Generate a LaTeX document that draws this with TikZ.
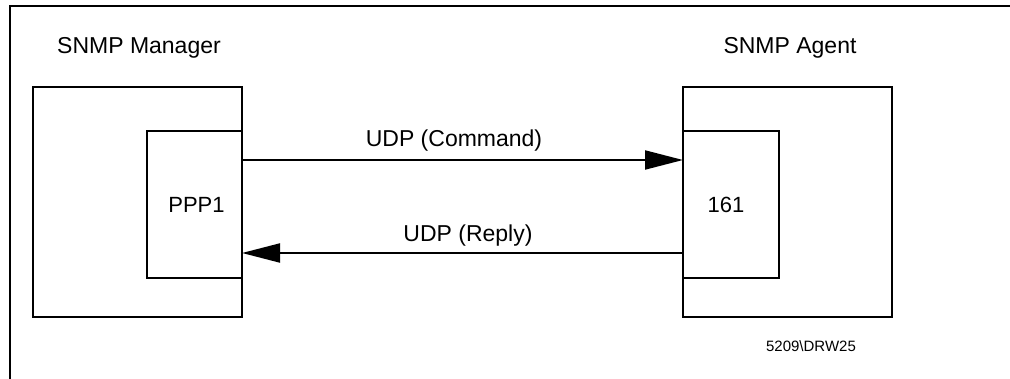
\documentclass[tikz,border=0pt]{standalone}
\usepackage{fontspec}
\setmainfont{Liberation Sans}
\usetikzlibrary{arrows.meta}
\begin{document}
\begin{tikzpicture}[x=1pt,y=-1pt,
  box/.style={draw, line width=2pt, rectangle, inner sep=0pt, outer sep=0pt},
  lbl/.style={inner sep=0pt, anchor=base, font=\fontsize{23}{26}\selectfont},
  arr/.style={line width=2pt, -{Triangle[length=38pt,width=19pt]}}]
\useasboundingbox (0,0) rectangle (1010,379);
% frame
\draw[line width=2pt] (1010,6) -- (10,6) -- (10,379);
% manager
\node[box, minimum width=209pt, minimum height=230pt] (mgr) at (137.5,202) {};
\node[box, fill=white, minimum width=95pt, minimum height=147pt] (ppp) at (194.5,204.5) {};
% agent
\node[box, minimum width=209pt, minimum height=230pt] (agt) at (787.5,202) {};
\node[box, fill=white, minimum width=96pt, minimum height=147pt] (port) at (731,204.5) {};
% texts
\node[lbl] (mgrt) at (139,54) {SNMP Manager};
\node[lbl] (agtt) at (790,54) {SNMP Agent};
\node[lbl, font=\fontsize{22}{26}\selectfont] (pppt) at (196.5,213) {PPP1};
\node[lbl, font=\fontsize{22}{26}\selectfont] (portt) at (726,213) {161};
\node[lbl] (cmdt) at (454,147) {UDP (Command)};
\node[lbl] (rept) at (468,242) {UDP (Reply)};
\node[lbl, font=\fontsize{15}{18}\selectfont] (ref) at (811,352) {5209\textbackslash DRW25};
% connectors
\draw[arr] ([yshift=44.5pt]ppp.east) -- ([yshift=44.5pt]port.west);
\draw[arr] ([yshift=-48.5pt]port.west) -- ([yshift=-48.5pt]ppp.east);
\end{tikzpicture}
\end{document}
